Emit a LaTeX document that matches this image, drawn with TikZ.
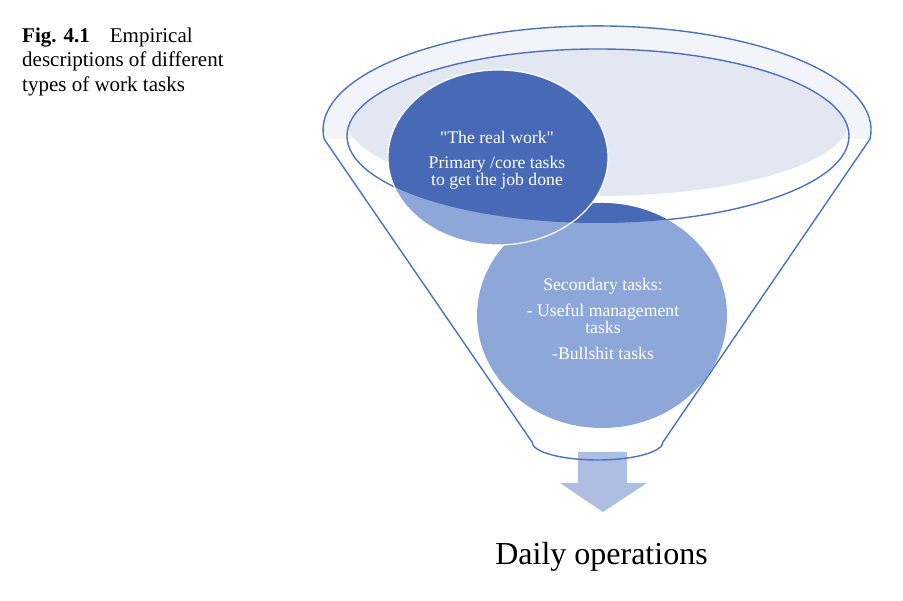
\documentclass[tikz,border=0pt]{standalone}
\usepackage{fontspec}
\setmainfont{Liberation Serif}[Ligatures=TeXOff]
\definecolor{funnelblue}{HTML}{4A72C4}
\definecolor{rimfill}{HTML}{F3F4FA}
\definecolor{bowlfill}{HTML}{E3E7F2}
\definecolor{coredark}{HTML}{4769B6}
\definecolor{corelight}{HTML}{8EA7D9}
\definecolor{arrowfill}{HTML}{AEBEE3}

\begin{document}
\begin{tikzpicture}[x=1pt,y=1pt,
    funnelline/.style={funnelblue,line width=1.4pt},
    circletext/.style={white,align=center,inner sep=0pt,font=\fontsize{17.7}{17}\selectfont}]
    \useasboundingbox (0,0) rectangle (903,601);

    % rim and bowl of the funnel
    \coordinate (rimleft) at (324,462);
    \coordinate (rimright) at (870,462);
    \coordinate (spoutleft) at (532,159);
    \coordinate (bowl) at (598,465);
    \fill[rimfill] (rimright) arc[start angle=-5,end angle=185,x radius=274,y radius=104] -- cycle;
    \begin{scope}
        \clip (bowl) ellipse[x radius=251,y radius=87];
        \fill[bowlfill] (598,479) ellipse[x radius=250,y radius=74];
    \end{scope}
    \draw[funnelline] (bowl) ellipse[x radius=251,y radius=87];

    % arrow under the spout
    \fill[arrowfill] (578,149) -- (627,149) -- (627,118) -- (647,118) -- (603,89) -- (560,118) -- (578,118) -- cycle;

    \draw[funnelline] (rimright) arc[start angle=-5,end angle=185,x radius=274,y radius=104]
        -- (spoutleft) arc[start angle=180,end angle=360,x radius=65.5,y radius=18] -- cycle;

    % the two circles, darker inside the bowl
    \coordinate (core) at (498,443.5);
    \coordinate (second) at (602,285.5);
    \fill[corelight] (second) ellipse[x radius=125,y radius=112.5];
    \begin{scope}
        \clip (bowl) ellipse[x radius=251,y radius=87];
        \fill[coredark] (second) ellipse[x radius=125,y radius=112.5];
    \end{scope}
    \fill[corelight] (core) ellipse[x radius=110,y radius=87.5];
    \begin{scope}
        \clip (bowl) ellipse[x radius=251,y radius=87];
        \fill[coredark] (core) ellipse[x radius=110,y radius=87.5];
    \end{scope}
    \draw[white,line width=1.2pt] (core) ellipse[x radius=110,y radius=87.5];

    \node[circletext] (realwork) at (497,441) {"The real work"\\[8pt]Primary /core tasks\\to get the job done};
    \node[circletext] (secondary) at (603,282) {Secondary tasks:\\[9pt]- Useful management\\tasks\\[9pt]-Bullshit tasks};

    \node[anchor=base,inner sep=0pt,font=\fontsize{32}{36}\selectfont] (dailyops) at (601.5,36) {Daily operations};

    \node[anchor=north west,align=left,inner sep=0pt,font=\fontsize{21}{24.5}\selectfont] (caption) at (22,573.5)
        {\textbf{Fig. 4.1}\hspace{20pt}Empirical\\descriptions of different\\types of work tasks};
\end{tikzpicture}
\end{document}
